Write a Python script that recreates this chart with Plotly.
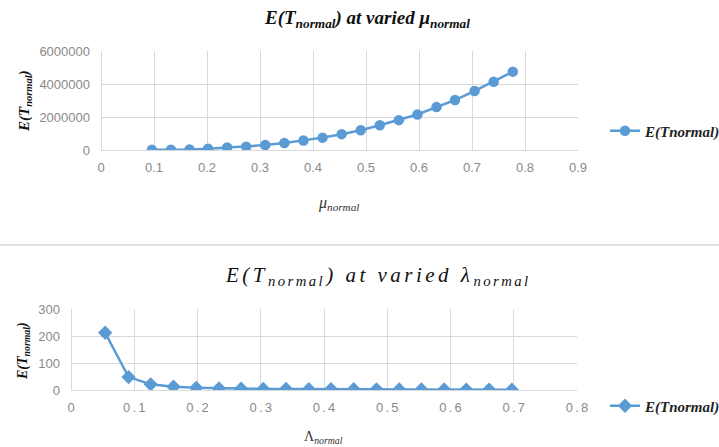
import plotly.graph_objects as go

# ---- data ----
mu_normal = [0.096, 0.132, 0.167, 0.202, 0.238, 0.274, 0.310, 0.346, 0.382, 0.418,
             0.454, 0.490, 0.526, 0.562, 0.597, 0.633, 0.668, 0.705, 0.741, 0.777]
E_T_mu = [10000, 15000, 35000, 75000, 150000, 200000, 300000, 420000, 580000, 750000,
          960000, 1200000, 1500000, 1810000, 2150000, 2600000, 3030000, 3580000, 4140000, 4750000]

lambda_normal = [0.054, 0.091, 0.126, 0.162, 0.198, 0.234, 0.269, 0.304, 0.340, 0.376,
                 0.411, 0.447, 0.483, 0.519, 0.554, 0.590, 0.625, 0.661, 0.697]
E_T_lambda = [212, 48, 21, 12, 8, 6, 5, 4, 4, 3, 3, 3, 2.5, 2, 2, 2, 1.5, 1.5, 1.2]

series_name = "E(Tnormal)"
top_xticks = [0, 0.1, 0.2, 0.3, 0.4, 0.5, 0.6, 0.7, 0.8, 0.9]
bot_xticks = [0, 0.1, 0.2, 0.3, 0.4, 0.5, 0.6, 0.7, 0.8]

W, H = 719, 447
BLUE = "#5b9bd5"
GRID = "#d9d9d9"
TICKC = "#8a8a8a"
SERIF = "Liberation Serif, Times New Roman, serif"
SANS = "Liberation Sans, Arial, sans-serif"
SP = "\u2006"


def px(x):
    return x / W


def py(y):
    return 1 - y / H


def spaced(s):
    return SP.join(s)


fig = go.Figure()
fig.add_trace(go.Scatter(
    x=mu_normal, y=E_T_mu, mode="lines+markers", name=f"<b><i>{series_name}</i></b>",
    line=dict(color=BLUE, width=2.5), marker=dict(symbol="circle", size=10.5, color=BLUE),
    xaxis="x", yaxis="y", legend="legend"))
fig.add_trace(go.Scatter(
    x=lambda_normal, y=E_T_lambda, mode="lines+markers", name=f"<b><i>{series_name}</i></b>",
    line=dict(color=BLUE, width=2.5), marker=dict(symbol="diamond", size=11, color=BLUE),
    xaxis="x2", yaxis="y2", legend="legend2"))

axis_common = dict(showgrid=True, gridcolor=GRID, gridwidth=1, zeroline=True,
                   zerolinecolor=GRID, zerolinewidth=1, showline=False, ticks="",
                   tickfont=dict(family=SANS, size=13, color=TICKC))

fig.update_layout(
    width=W, height=H, autosize=False,
    margin=dict(l=0, r=0, t=0, b=0, pad=0, autoexpand=False),
    paper_bgcolor="white", plot_bgcolor="white",
    xaxis=dict(domain=[px(101), px(578)], range=[0, 0.9], tickvals=top_xticks,
               ticktext=[f"{v:g}" for v in top_xticks], anchor="y",
               ticklabelstandoff=8, **axis_common),
    yaxis=dict(domain=[py(150), py(51)], range=[0, 6000000], dtick=2000000,
               tickformat="d", anchor="x", ticklabelstandoff=10, **axis_common),
    xaxis2=dict(domain=[px(71), px(577)], range=[0, 0.8], tickvals=bot_xticks,
                ticktext=[spaced(f"{v:g}") for v in bot_xticks], anchor="y2",
                ticklabelstandoff=8, **axis_common),
    yaxis2=dict(domain=[py(390), py(309)], range=[0, 300], dtick=100,
                anchor="x2", ticklabelstandoff=10, **axis_common),
    legend=dict(x=px(605), y=py(131), xanchor="left", yanchor="middle",
                bgcolor="rgba(0,0,0,0)", itemwidth=30,
                font=dict(family=SERIF, size=15, color="#222"), tracegroupgap=0),
    legend2=dict(x=px(605), y=py(406), xanchor="left", yanchor="middle",
                 bgcolor="rgba(0,0,0,0)", itemwidth=30,
                 font=dict(family=SERIF, size=15, color="#222"), tracegroupgap=0),
    showlegend=True,
)

bottom_title = (spaced("E(T") + SP + "<sub>" + spaced("normal") + "</sub>" + SP
                + spaced(") at varied λ") + SP + "<sub>" + spaced("normal") + "</sub>")

annos = [
    dict(x=px(367), y=py(19), text="<b><i>E(T<sub>normal</sub>) at varied μ<sub>normal</sub></i></b>",
         font=dict(family=SERIF, size=19, color="#111")),
    dict(x=px(376), y=py(276), text="<i>" + bottom_title + "</i>",
         font=dict(family=SERIF, size=21, color="#111")),
    dict(x=px(25), y=py(101), text="<b><i>E(T<sub>normal</sub>)</i></b>", textangle=-90,
         font=dict(family=SERIF, size=15, color="#111")),
    dict(x=px(23), y=py(351), text="<b><i>E(T<sub>normal</sub>)</i></b>", textangle=-90,
         font=dict(family=SERIF, size=14, color="#111")),
    dict(x=px(338), y=py(203), text="<i>μ<sub>normal</sub></i>",
         font=dict(family=SERIF, size=16, color="#333")),
    dict(x=px(323), y=py(437), text="Λ<sub><i>normal</i></sub>",
         font=dict(family=SERIF, size=14, color="#333")),
]
for a in annos:
    a.update(xref="paper", yref="paper", showarrow=False, xanchor="center", yanchor="middle")
    fig.add_annotation(**a)

fig.add_shape(type="line", xref="paper", yref="paper", x0=0, x1=1, y0=py(245), y1=py(245),
              line=dict(color="#d9d9d9", width=1.5))

post = ("document.body.style.margin='0';document.body.style.overflow='hidden';"
        "document.documentElement.style.overflow='hidden';")
fig.write_html("out.html", config={"displayModeBar": False}, post_script=post)
